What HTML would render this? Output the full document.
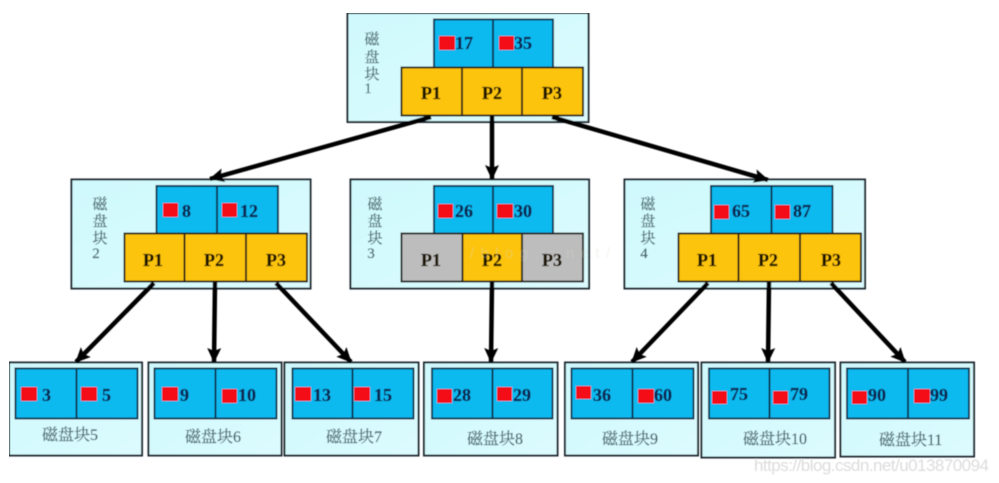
<!DOCTYPE html>
<html><head><meta charset="utf-8"><style>
html,body{margin:0;padding:0;background:#fff;width:999px;height:483px;overflow:hidden}
svg{display:block}
.n{font:bold 18px "Liberation Serif","Noto Serif CJK SC",serif;fill:#07234f;stroke:#07234f;stroke-width:.3}
.p{font:bold 18px "Liberation Serif","Noto Serif CJK SC",serif;fill:#1f1406;stroke:#1f1406;stroke-width:.3;text-anchor:middle}
.c{font:16px "Liberation Serif","Noto Serif CJK SC",serif;fill:#3f5f66;stroke:#3f5f66;stroke-width:.2}
.v{font:15px "Liberation Serif","Noto Serif CJK SC",serif;fill:#3f5f66;stroke:#3f5f66;stroke-width:.2;text-anchor:middle}
.box{fill:url(#g);stroke:#1c2c30;stroke-width:2}
.b{fill:#0fbaf0;stroke:#0e3350;stroke-width:2}
.y{fill:#fdc40a;stroke:#221e12;stroke-width:2}
.gr{fill:#bdbdbd;stroke:#221e12;stroke-width:2}
.r{fill:#f40c14}
.a{stroke:#050505;stroke-width:4.500;fill:none}
</style></head><body>
<svg width="999" height="483" viewBox="0 0 999 483" xmlns="http://www.w3.org/2000/svg">
<defs>
<linearGradient id="g" x1="0" y1="0" x2="1" y2="1"><stop offset="0" stop-color="#cff9fd"/><stop offset="1" stop-color="#dcfbfe"/></linearGradient>
<marker id="ah" markerUnits="userSpaceOnUse" markerWidth="16" markerHeight="14" refX="14" refY="7" orient="auto"><path d="M0 0L15 7L0 14L3 7Z" fill="#050505"/></marker>
<filter id="bl" x="0" y="0" width="100%" height="100%"><feGaussianBlur stdDeviation="0.4"/></filter>
</defs>
<g filter="url(#bl)">
<!-- root -->
<rect class="box" x="347.500" y="13" width="241" height="109"/>
<rect class="b" x="434" y="19.500" width="60" height="48"/><rect class="b" x="493" y="19.500" width="60" height="48"/>
<rect class="y" x="401.500" y="67.500" width="61" height="48"/><rect class="y" x="462" y="67.500" width="60" height="48"/><rect class="y" x="522" y="67.500" width="61" height="48"/>
<rect class="r" x="439" y="36" width="16" height="14"/><rect class="r" x="499" y="36" width="15" height="14"/>
<text class="n" x="455" y="49">17</text><text class="n" x="514" y="49">35</text>
<text class="p" x="431" y="99">P1</text><text class="p" x="492" y="99">P2</text><text class="p" x="552" y="99">P3</text>
<text class="v" x="372" y="44">磁</text><text class="v" x="372" y="62">盘</text><text class="v" x="372" y="79">块</text><text class="v" x="368" y="93">1</text>
<!-- node 2 -->
<rect class="box" x="71.500" y="179.500" width="239" height="109"/>
<rect class="b" x="156.500" y="186" width="61" height="47.500"/><rect class="b" x="217" y="186" width="61" height="47.500"/>
<rect class="y" x="124.500" y="233.500" width="60" height="48"/><rect class="y" x="184.500" y="233.500" width="61.500" height="48"/><rect class="y" x="246" y="233.500" width="61" height="48"/>
<rect class="r" x="163" y="203" width="15" height="14"/><rect class="r" x="222" y="203" width="15" height="14"/>
<text class="n" x="182" y="217">8</text><text class="n" x="240" y="217">12</text>
<text class="p" x="153" y="266">P1</text><text class="p" x="214" y="266">P2</text><text class="p" x="276" y="266">P3</text>
<text class="v" x="100" y="209">磁</text><text class="v" x="100" y="226">盘</text><text class="v" x="100" y="243">块</text><text class="v" x="96" y="258">2</text>
<!-- node 3 -->
<rect class="box" x="350.500" y="179.500" width="238.500" height="109"/>
<rect class="b" x="434" y="186" width="59.500" height="47.500"/><rect class="b" x="493" y="186" width="60" height="47.500"/>
<rect class="gr" x="401.500" y="233.500" width="61" height="48"/><rect class="y" x="462.500" y="233.500" width="59.500" height="48"/><rect class="gr" x="522" y="233.500" width="61" height="48"/>
<rect class="r" x="438" y="204" width="15" height="14"/><rect class="r" x="497" y="204" width="16" height="14"/>
<text class="n" x="455" y="217">26</text><text class="n" x="514" y="217">30</text>
<text class="p" x="431" y="266">P1</text><text class="p" x="492" y="266">P2</text><text class="p" x="552" y="266">P3</text>
<text class="v" x="375" y="209">磁</text><text class="v" x="375" y="226">盘</text><text class="v" x="375" y="243">块</text><text class="v" x="371" y="258">3</text>
<!-- node 4 -->
<rect class="box" x="624.500" y="179.500" width="240.500" height="109"/>
<rect class="b" x="711" y="186" width="60.500" height="47.500"/><rect class="b" x="771.500" y="186" width="61" height="47.500"/>
<rect class="y" x="678.500" y="233.500" width="60" height="48"/><rect class="y" x="738.500" y="233.500" width="61.500" height="48"/><rect class="y" x="800" y="233.500" width="61" height="48"/>
<rect class="r" x="714" y="205" width="15" height="14"/><rect class="r" x="775" y="205" width="15" height="14"/>
<text class="n" x="732" y="217">65</text><text class="n" x="793" y="217">87</text>
<text class="p" x="707" y="266">P1</text><text class="p" x="768" y="266">P2</text><text class="p" x="831" y="266">P3</text>
<text class="v" x="648" y="209">磁</text><text class="v" x="648" y="226">盘</text><text class="v" x="648" y="243">块</text><text class="v" x="644" y="258">4</text>
<!-- leaves -->
<rect class="box" x="9" y="362.500" width="133" height="93"/>
<rect class="b" x="15.500" y="368.500" width="61" height="50"/><rect class="b" x="76.500" y="368.500" width="61" height="50"/>
<rect class="r" x="21" y="387" width="16" height="14"/><rect class="r" x="81" y="387" width="16" height="14"/>
<text class="n" x="42" y="401">3</text><text class="n" x="102" y="401">5</text>
<text class="c" x="42" y="440">磁盘块5</text>

<rect class="box" x="148.500" y="362.500" width="133" height="93"/>
<rect class="b" x="154.500" y="368.500" width="61" height="50"/><rect class="b" x="215.500" y="368.500" width="61" height="50"/>
<rect class="r" x="162" y="387" width="16" height="14"/><rect class="r" x="222" y="389" width="15" height="14"/>
<text class="n" x="180" y="401">9</text><text class="n" x="238" y="401">10</text>
<text class="c" x="185" y="442">磁盘块6</text>

<rect class="box" x="284.500" y="362.500" width="134" height="93"/>
<rect class="b" x="292.500" y="368.500" width="60" height="50"/><rect class="b" x="352.500" y="368.500" width="61" height="50"/>
<rect class="r" x="295" y="387" width="16" height="14"/><rect class="r" x="354" y="387" width="16" height="14"/>
<text class="n" x="313" y="401">13</text><text class="n" x="374" y="401">15</text>
<text class="c" x="326" y="442">磁盘块7</text>

<rect class="box" x="424" y="362.500" width="133.500" height="93"/>
<rect class="b" x="432" y="368.500" width="60.500" height="50"/><rect class="b" x="492.500" y="368.500" width="60" height="50"/>
<rect class="r" x="437" y="389" width="15" height="14"/><rect class="r" x="497" y="387" width="15" height="14"/>
<text class="n" x="453" y="401">28</text><text class="n" x="513" y="401">29</text>
<text class="c" x="467" y="444">磁盘块8</text>

<rect class="box" x="565" y="362.500" width="133" height="93"/>
<rect class="b" x="571.500" y="368.500" width="61" height="50"/><rect class="b" x="632.500" y="368.500" width="61" height="50"/>
<rect class="r" x="576" y="386" width="15" height="13"/><rect class="r" x="638" y="389" width="16" height="14"/>
<text class="n" x="593" y="401">36</text><text class="n" x="654" y="401">60</text>
<text class="c" x="602" y="444">磁盘块9</text>

<rect class="box" x="701.500" y="362.500" width="133.500" height="95"/>
<rect class="b" x="709" y="368.500" width="60.500" height="50"/><rect class="b" x="769.500" y="368.500" width="60" height="50"/>
<rect class="r" x="712" y="391" width="15" height="13"/><rect class="r" x="773" y="391" width="15" height="13"/>
<text class="n" x="730" y="400">75</text><text class="n" x="790" y="400">79</text>
<text class="c" x="743" y="444">磁盘块10</text>

<rect class="box" x="840.500" y="362.500" width="133.500" height="94"/>
<rect class="b" x="847" y="368.500" width="61" height="50"/><rect class="b" x="908" y="368.500" width="61" height="50"/>
<rect class="r" x="852" y="391" width="15" height="13"/><rect class="r" x="914" y="389" width="16" height="14"/>
<text class="n" x="868" y="401">90</text><text class="n" x="930" y="401">99</text>
<text class="c" x="879" y="445">磁盘块11</text>

<!-- arrows -->
<line class="a" x1="431" y1="117" x2="210" y2="179" marker-end="url(#ah)"/>
<line class="a" x1="492" y1="116" x2="492" y2="179" marker-end="url(#ah)"/>
<line class="a" x1="552" y1="117" x2="768" y2="180" marker-end="url(#ah)"/>
<line class="a" x1="154" y1="283" x2="76" y2="362" marker-end="url(#ah)"/>
<line class="a" x1="215" y1="282" x2="214" y2="362" marker-end="url(#ah)"/>
<line class="a" x1="276" y1="283" x2="351" y2="362" marker-end="url(#ah)"/>
<line class="a" x1="492" y1="282" x2="491" y2="362" marker-end="url(#ah)"/>
<line class="a" x1="708" y1="283" x2="632" y2="362" marker-end="url(#ah)"/>
<line class="a" x1="769" y1="282" x2="768" y2="362" marker-end="url(#ah)"/>
<line class="a" x1="831" y1="283" x2="905" y2="362" marker-end="url(#ah)"/>
<!-- watermarks -->
<text x="754" y="471" style="font:17px 'Liberation Sans',sans-serif;fill:#dcdcdc" textLength="235">https://blog.csdn.net/u013870094</text>
<text x="470" y="258" style="font:15px 'Liberation Sans',sans-serif;fill:#d6d6c8;fill-opacity:.3" textLength="140">/blog.        .net/</text>
</g>
</svg>
</body></html>
